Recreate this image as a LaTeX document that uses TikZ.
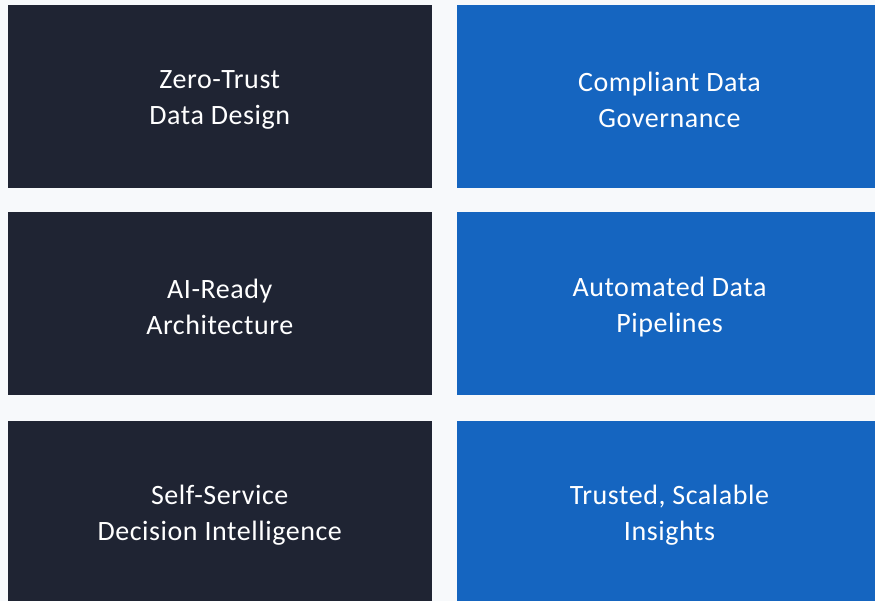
\documentclass[tikz,border=0pt]{standalone}
\usepackage{fontspec}
\setmainfont{Carlito}[LetterSpace=2]

\definecolor{pagebg}{HTML}{F7F9FB}
\definecolor{navy}{HTML}{1F2433}
\definecolor{bluebox}{HTML}{1565C0}

\begin{document}
\begin{tikzpicture}[x=1pt, y=-1pt]
                \tikzstyle{tile}=[rectangle, inner sep=0pt, minimum width=424.5pt, minimum height=182.5pt]
                \tikzstyle{darktile}=[tile, fill=navy]
                \tikzstyle{bluetile}=[tile, fill=bluebox]
                \tikzstyle{caption}=[text=white, align=center, yshift=-3pt, font=\fontsize{28}{36}\selectfont]

                \fill[pagebg] (0,0) rectangle (875,601);
                \useasboundingbox (0,0) rectangle (875,601);
                \clip (0,0) rectangle (875,601);

                \node[darktile] (zerotrust)  at (219.75,96.75)  {};
                \node[bluetile] (governance) at (669.5,96.75)   {};
                \node[darktile] (aiready)    at (219.75,303.75) {};
                \node[bluetile] (pipelines)  at (669.5,303.75)  {};
                \node[darktile] (selfserve)  at (219.75,511.75) {};
                \node[bluetile] (insights)   at (669.5,511.75)  {};

                \node[caption] (zerotrust-t)  at (zerotrust)  {Zero-Trust\\Data Design};
                \node[caption] (governance-t) at (governance) {Compliant Data\\Governance};
                \node[caption] (aiready-t)    at (aiready)    {AI-Ready\\Architecture};
                \node[caption] (pipelines-t)  at (pipelines)  {Automated Data\\Pipelines};
                \node[caption] (selfserve-t)  at (selfserve)  {Self-Service\\Decision Intelligence};
                \node[caption] (insights-t)   at (insights)   {Trusted, Scalable\\Insights};
            \end{tikzpicture}
\end{document}
